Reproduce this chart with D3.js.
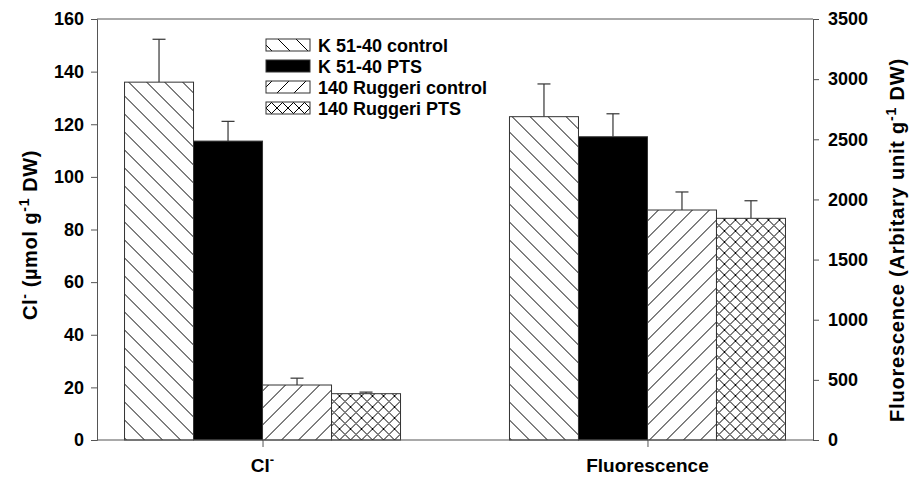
<!DOCTYPE html>
<html>
<head>
<meta charset="utf-8">
<script src="https://cdn.jsdelivr.net/npm/d3@7"></script>
<style>
  body { margin: 0; background: #fff; }
  text { font-family: "Liberation Sans", Arial, sans-serif; font-weight: bold; fill: #000; }
</style>
</head>
<body>
<div id="chart"></div>
<script>
// values
const categories = ["Cl", "Fluorescence"];
const series = ["K 51-40 control", "K 51-40 PTS", "140 Ruggeri control", "140 Ruggeri PTS"];
const chlorideMeans = [136, 113.6, 20.9, 17.6];
const chlorideErrors = [16.3, 7.5, 2.6, 0.6];
const fluorMeans = [2688, 2521, 1912, 1843];
const fluorErrors = [272, 191, 150, 146];
const leftTicks = [0, 20, 40, 60, 80, 100, 120, 140, 160];
const rightTicks = [0, 500, 1000, 1500, 2000, 2500, 3000, 3500];

const W = 912, H = 477;
const padL = 97, padR = 813, padT = 19, padB = 440;
const axisColor = "#555";

const svg = d3.select("#chart").append("svg")
    .attr("width", W).attr("height", H);

// hatch patterns
const defs = svg.append("defs");
function hatch(id, s, d) {
    defs.append("pattern")
        .attr("id", id)
        .attr("patternUnits", "userSpaceOnUse")
        .attr("width", s).attr("height", s)
        .append("path")
        .attr("d", d)
        .attr("stroke", "#000")
        .attr("stroke-width", 1)
        .attr("fill", "none");
}
let s = 18;
hatch("back", s, `M0,0L${s},${s}M${-s / 2},${s / 2}L${s / 2},${s * 1.5}M${s / 2},${-s / 2}L${s * 1.5},${s / 2}`);
s = 17;
hatch("fwd", s, `M0,${s}L${s},0M${-s / 2},${s / 2}L${s / 2},${-s / 2}M${s / 2},${s * 1.5}L${s * 1.5},${s / 2}`);
s = 11;
hatch("cross", s, `M0,0L${s},${s}M${-s / 2},${s / 2}L${s / 2},${s * 1.5}M${s / 2},${-s / 2}L${s * 1.5},${s / 2}` +
    `M0,${s}L${s},0M${-s / 2},${s / 2}L${s / 2},${-s / 2}M${s / 2},${s * 1.5}L${s * 1.5},${s / 2}`);
const fills = ["url(#back)", "#000", "url(#fwd)", "url(#cross)"];

// scales
const x = d3.scalePoint().domain(categories).range([padL, padR]).padding(0.43);
const xs = d3.scaleBand().domain(series).range([-138, 138]);
const yL = d3.scaleLinear().domain([0, 160]).range([padB, padT]);
const yR = d3.scaleLinear().domain([0, 3500]).range([padB, padT]);

const groups = [
    { cat: categories[0], y: yL, means: chlorideMeans, errs: chlorideErrors },
    { cat: categories[1], y: yR, means: fluorMeans, errs: fluorErrors }
];

groups.forEach(g => {
    const rows = series.map((name, i) => ({ name, i, v: g.means[i], e: g.errs[i] }));
    const gg = svg.append("g").attr("transform", `translate(${x(g.cat)},0)`);
    // error bars first, behind bars
    gg.selectAll(".err").data(rows).enter().append("g").each(function (d) {
        const cx = xs(d.name) + xs.bandwidth() / 2;
        const el = d3.select(this);
        el.append("line").attr("x1", cx).attr("x2", cx)
            .attr("y1", g.y(d.v)).attr("y2", g.y(d.v + d.e))
            .attr("stroke", "#333").attr("stroke-width", 1.2);
        el.append("line").attr("x1", cx - 6.5).attr("x2", cx + 6.5)
            .attr("y1", g.y(d.v + d.e)).attr("y2", g.y(d.v + d.e))
            .attr("stroke", "#333").attr("stroke-width", 1.2);
    });
    gg.selectAll("rect").data(rows).enter().append("rect")
        .attr("x", d => xs(d.name))
        .attr("width", xs.bandwidth())
        .attr("y", d => g.y(d.v))
        .attr("height", d => padB - g.y(d.v))
        .attr("fill", "#fff")
        .clone(true)
        .attr("fill", d => fills[d.i])
        .attr("stroke", "#333")
        .attr("stroke-width", 1);
});

// axes
const axL = svg.append("g").attr("transform", `translate(${padL},0)`)
    .call(d3.axisLeft(yL).tickValues(leftTicks).tickSize(6).tickPadding(7));
const axR = svg.append("g").attr("transform", `translate(${padR},0)`)
    .call(d3.axisRight(yR).tickValues(rightTicks).tickSize(6).tickPadding(9).tickFormat(d3.format("d")));
const axB = svg.append("g").attr("transform", `translate(0,${padB})`)
    .call(d3.axisBottom(x).tickSize(7).tickFormat(""));
[axL, axR, axB].forEach(a => {
    a.select(".domain").attr("stroke", axisColor);
    a.selectAll(".tick line").attr("stroke", axisColor);
    a.selectAll("text").attr("font-size", 18).attr("font-family", null).attr("font-weight", null);
});
axB.select(".domain").attr("d", `M${padL},0H${padR}`);
svg.append("line").attr("x1", padL).attr("x2", padR).attr("y1", padT).attr("y2", padT)
    .attr("stroke", axisColor);

// category labels
categories.forEach((c, i) => {
    const t = svg.append("text").attr("x", x(c)).attr("y", 472)
        .attr("text-anchor", "middle").attr("font-size", 19).text(c);
    if (i === 0) t.append("tspan").attr("font-size", 13).attr("dy", -8).text("-");
});

// axis titles
const tl = svg.append("text").attr("transform", "translate(37,235) rotate(-90)")
    .attr("text-anchor", "middle").attr("font-size", 20).attr("letter-spacing", 0.6);
tl.append("tspan").text("Cl");
tl.append("tspan").attr("font-size", 14).attr("dy", -8).text("-");
tl.append("tspan").attr("dy", 8).text(" (\u00b5mol g");
tl.append("tspan").attr("font-size", 14).attr("dy", -8).text("-1");
tl.append("tspan").attr("dy", 8).text(" DW)");

const tr = svg.append("text").attr("transform", "translate(904,240) rotate(-90)")
    .attr("text-anchor", "middle").attr("font-size", 20).attr("letter-spacing", 0.8);
tr.append("tspan").text("Fluorescence (Arbitary unit g");
tr.append("tspan").attr("font-size", 14).attr("dy", -8).text("-1");
tr.append("tspan").attr("dy", 8).text(" DW)");

// legend
const lg = svg.append("g").attr("transform", "translate(266,45)");
series.forEach((name, i) => {
    const r = lg.append("g").attr("transform", `translate(0,${i * 21})`);
    r.append("rect").attr("x", 0).attr("y", -6).attr("width", 44).attr("height", 12)
        .attr("fill", "#fff");
    r.append("rect").attr("x", 0).attr("y", -6).attr("width", 44).attr("height", 12)
        .attr("fill", fills[i]).attr("stroke", "#333");
    r.append("text").attr("x", 52).attr("y", 6.5).attr("font-size", 18).text(name);
});
</script>
</body>
</html>
